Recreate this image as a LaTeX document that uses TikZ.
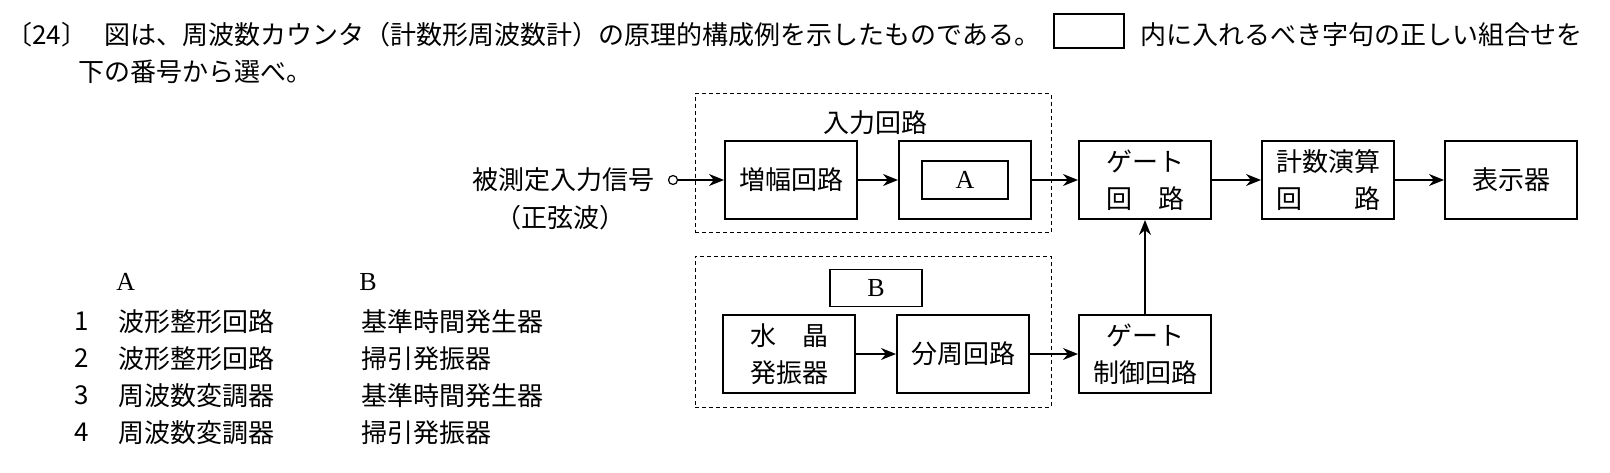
\documentclass[tikz,border=0pt]{standalone}
\usepackage{fontspec}
\setmainfont{Noto Sans CJK JP}
\newfontfamily\lat{Liberation Serif}
\usetikzlibrary{arrows.meta,positioning}

\tikzset{
  blk/.style={draw, line width=1pt, minimum width=66pt, minimum height=39pt, inner sep=0pt, align=center},
  slot/.style={draw, line width=0.6pt, inner sep=0pt},
  grp/.style={draw, line width=0.5pt, dash pattern=on 2pt off 1.5pt, inner sep=0pt},
  conn/.style={-{Stealth[length=7.5pt,width=6pt]}, line width=0.8pt},
  txt/.style={inner sep=0pt}
}

\begin{document}
\begin{tikzpicture}[x=0.5pt, y=-0.5pt, font=\fontsize{13pt}{18.3pt}\selectfont]
  \useasboundingbox (0,0) rectangle (1610,472);

  % question text
  \node[txt, anchor=west] (qnum) at (6,35) {〔24〕};
  \node[txt, anchor=west] (qtext) at (104,35) {図は、周波数カウンタ（計数形周波数計）の原理的構成例を示したものである。};
  \node[slot, minimum width=35pt, minimum height=17pt] (blank) at (1089,31) {};
  \node[txt, anchor=west] (qtail) at (1140,35) {内に入れるべき字句の正しい組合せを};
  \node[txt, anchor=west] (qline) at (78,72) {下の番号から選べ。};

  % dashed groups
  \node[grp, minimum width=178pt, minimum height=69.5pt] (inGrp) at (873,163) {};
  \node[grp, minimum width=178pt, minimum height=75.5pt] (refGrp) at (873,331.5) {};
  \node[txt] (inLbl) at (875,123) {入力回路};

  % input
  \node[txt, anchor=east] (srcLbl) at (655,180) {被測定入力信号};
  \node[txt] (wave) at (560,218) {（正弦波）};
  \node[circle, draw, line width=0.6pt, inner sep=0pt, minimum size=4.5pt] (src) at (673,180) {};

  % blocks
  \node[blk] (amp) at (791,180) {増幅回路};
  \node[blk, right=20pt of amp] (aBox) {};
  \node[slot, minimum width=43pt, minimum height=19pt] (aSlot) at (aBox) {\lat A};
  \node[blk] (gate) at (1145,180) {ゲート\\回　路};
  \node[blk, right=24.5pt of gate] (count) {計数演算\\回　　路};
  \node[blk, right=24.5pt of count] (disp) {表示器};

  \node[slot, minimum width=46pt, minimum height=18.5pt] (bSlot) at (876,288) {\lat B};
  \node[blk] (xtal) at (789,354) {水　晶\\発振器};
  \node[blk, right=20pt of xtal] (div) {分周回路};
  \node[blk] (ctrl) at (1145,354) {ゲート\\制御回路};

  \draw[conn] (src) -- (amp);
  \draw[conn] (amp) -- (aBox);
  \draw[conn] (aBox) -- (gate);
  \draw[conn] (gate) -- (count);
  \draw[conn] (count) -- (disp);
  \draw[conn] (xtal) -- (div);
  \draw[conn] (div) -- (ctrl);
  \draw[conn] (ctrl) -- (gate);

  % answer table
  \node[txt, anchor=west] (hdA) at (116,282) {\lat A};
  \node[txt, anchor=west] (hdB) at (359,282) {\lat B};
  \foreach \a/\b [count=\i] in {波形整形回路/基準時間発生器, 波形整形回路/掃引発振器,
                                周波数変調器/基準時間発生器, 周波数変調器/掃引発振器} {
    \node[txt] (num\i) at (82,{284.5+37*\i}) {\i};
    \node[txt, anchor=west] (optA\i) at (118,{284.5+37*\i}) {\a};
    \node[txt, anchor=west] (optB\i) at (361,{284.5+37*\i}) {\b};
  }
\end{tikzpicture}
\end{document}
